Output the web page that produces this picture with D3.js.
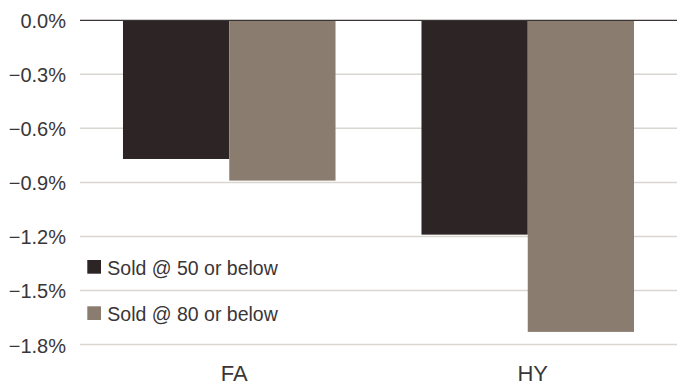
<!DOCTYPE html>
<html>
<head>
<meta charset="utf-8">
<script src="https://cdn.jsdelivr.net/npm/d3@7"></script>
<style>
  html, body { margin: 0; padding: 0; background: #ffffff; }
  svg { display: block; }
  text { font-family: "Liberation Sans", Arial, sans-serif; fill: #3a3637; }
</style>
</head>
<body>
<svg id="chart" width="684" height="385"></svg>
<script>
// Average price impact by sale threshold
const categories = ["FA", "HY"];
const seriesNames = ["Sold @ 50 or below", "Sold @ 80 or below"];
const sold50 = [-0.77, -1.19];
const sold80 = [-0.89, -1.73];
const yTicks = [0, -0.3, -0.6, -0.9, -1.2, -1.5, -1.8];
const colors = ["#2d2425", "#8a7d70"];

const svg = d3.select("#chart");
const plotLeft = 80, plotRight = 677, plotTop = 20.3, plotBottom = 344.5;

const rows = categories.map((c, i) => ({ cat: c, values: [sold50[i], sold80[i]] }));

const y = d3.scaleLinear().domain([0, -1.8]).range([plotTop, plotBottom]);
const x0 = d3.scaleBand().domain(categories).range([plotLeft, plotRight])
  .paddingInner(0.288).paddingOuter(0.144);
const x1 = d3.scaleBand().domain(d3.range(seriesNames.length)).range([0, x0.bandwidth()]);

// horizontal gridlines
svg.append("g")
  .selectAll("line")
  .data(yTicks.filter(t => t !== 0))
  .join("line")
  .attr("x1", plotLeft).attr("x2", plotRight)
  .attr("y1", d => y(d)).attr("y2", d => y(d))
  .attr("stroke", "#d9d6d2")
  .attr("stroke-width", 1.5);

// y-axis labels
svg.append("g")
  .selectAll("text")
  .data(yTicks)
  .join("text")
  .attr("x", 66)
  .attr("y", d => y(d) + 8)
  .attr("text-anchor", "end")
  .attr("font-size", 20)
  .text(d => (d === 0 ? "0.0" : d3.format(".1f")(d)) + "%");

// bars
const groups = svg.append("g")
  .selectAll("g")
  .data(rows)
  .join("g")
  .attr("transform", d => `translate(${x0(d.cat)},0)`);

groups.selectAll("rect")
  .data(d => d.values.map((v, i) => ({ v, i })))
  .join("rect")
  .attr("x", d => x1(d.i))
  .attr("width", x1.bandwidth())
  .attr("y", y(0))
  .attr("height", d => y(d.v) - y(0))
  .attr("fill", d => colors[d.i]);

// zero baseline
svg.append("line")
  .attr("x1", plotLeft).attr("x2", plotRight)
  .attr("y1", y(0)).attr("y2", y(0))
  .attr("stroke", "#3a3434")
  .attr("stroke-width", 1.3);

// category labels
svg.append("g")
  .selectAll("text")
  .data(categories)
  .join("text")
  .attr("x", d => x0(d) + x0.bandwidth() / 2 + 5)
  .attr("y", 381)
  .attr("text-anchor", "middle")
  .attr("font-size", 22)
  .style("font-family", "'Liberation Sans Narrow', 'Liberation Sans', sans-serif")
  .text(d => d);

// legend
const legend = svg.append("g").attr("transform", "translate(87.3,260)");
const items = legend.selectAll("g")
  .data(seriesNames)
  .join("g")
  .attr("transform", (d, i) => `translate(0,${i * 46.3})`);
items.append("rect")
  .attr("width", 13.7).attr("height", 13.7)
  .attr("fill", (d, i) => colors[i]);
items.append("text")
  .attr("x", 20)
  .attr("y", 14.5)
  .attr("font-size", 19.5)
  .text(d => d);
</script>
</body>
</html>
